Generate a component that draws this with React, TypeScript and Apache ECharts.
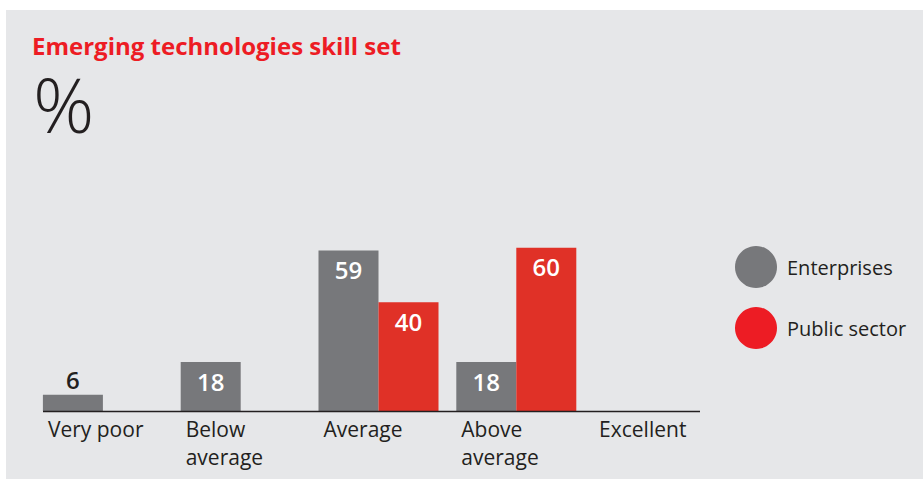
import React, { useEffect, useRef } from "react";
import * as echarts from "echarts";

const categories = ["Very poor", "Below\naverage", "Average", "Above\naverage", "Excellent"];
const seriesNames = ["Enterprises", "Public sector"];
const enterprises: (number | null)[] = [6, 18, 59, 18, null];
const publicSector: (number | null)[] = [null, null, 40, 60, null];

const FONT = "'Open Sans', 'Noto Sans', sans-serif";
const GRAY = "#77787b";
const RED_BAR = "#e03127";
const RED_LEGEND = "#ed1c24";
const TEXT = "#231f20";

function toData(values: (number | null)[]) {
  return values.map((v) => {
    if (v == null) return null;
    if (v < 10) {
      return {
        value: v,
        label: { position: "top", distance: 3, color: TEXT },
      };
    }
    return v;
  });
}

export default function App() {
  const ref = useRef<HTMLDivElement>(null);
  useEffect(() => {
    if (!ref.current) return;
    const chart = echarts.init(ref.current, undefined, { renderer: "svg" });
    const labelStyle = {
      show: true,
      position: "insideTop",
      distance: 7,
      color: "#ffffff",
      fontFamily: FONT,
      fontSize: 24,
      fontWeight: 600,
    };
    chart.setOption({
      animation: false,
      backgroundColor: "#ffffff",
      textStyle: { fontFamily: FONT },
      graphic: [
        {
          type: "rect",
          z: -10,
          silent: true,
          shape: { x: 6, y: 10, width: 917, height: 469 },
          style: { fill: "#e6e7e9" },
        },
        {
          type: "text",
          left: 32,
          top: 33,
          style: {
            text: "Emerging technologies skill set",
            fill: RED_LEGEND,
            font: `bold 24px ${FONT}`,
          },
        },
        {
          type: "text",
          left: 33,
          top: 65,
          style: {
            text: "%",
            fill: TEXT,
            font: `300 76px ${FONT}`,
          },
        },
        {
          type: "line",
          z: 10,
          shape: { x1: 43, y1: 411.5, x2: 700, y2: 411.5 },
          style: { stroke: TEXT, lineWidth: 1.5 },
        },
      ],
      legend: {
        orient: "vertical",
        left: 735,
        top: 246,
        padding: 0,
        itemWidth: 42,
        itemHeight: 42,
        itemGap: 19,
        icon: "circle",
        data: [
          { name: seriesNames[0], itemStyle: { color: GRAY } },
          { name: seriesNames[1], itemStyle: { color: RED_LEGEND } },
        ],
        textStyle: {
          fontFamily: FONT,
          fontSize: 20,
          color: TEXT,
          padding: [0, 0, 0, 5],
        },
      },
      grid: { left: 34, right: 200, top: 139, bottom: 68, containLabel: false },
      xAxis: {
        type: "category",
        data: categories,
        axisLine: { show: false },
        axisTick: { show: false },
        axisLabel: {
          interval: 0,
          margin: 4,
          color: TEXT,
          fontFamily: FONT,
          fontSize: 21,
          lineHeight: 28,
          align: "center",
          formatter: (v: string) =>
            v
              .split("\n")
              .map((line) => `{l|${line}}`)
              .join("\n"),
          rich: {
            l: {
              width: 110,
              align: "left",
              color: TEXT,
              fontFamily: FONT,
              fontSize: 21,
              lineHeight: 28,
            },
          },
        },
      },
      yAxis: {
        type: "value",
        min: 0,
        max: 100,
        show: false,
        splitLine: { show: false },
      },
      series: [
        {
          name: seriesNames[0],
          type: "bar",
          data: toData(enterprises),
          barWidth: 60,
          barGap: "0%",
          itemStyle: { color: GRAY },
          label: labelStyle,
        },
        {
          name: seriesNames[1],
          type: "bar",
          data: toData(publicSector),
          barWidth: 60,
          barGap: "0%",
          itemStyle: { color: RED_BAR },
          label: labelStyle,
        },
      ],
    });
    return () => chart.dispose();
  }, []);
  return (
    <div
      ref={ref}
      style={{ position: "fixed", left: 0, top: 0, width: 923, height: 479 }}
    />
  );
}
